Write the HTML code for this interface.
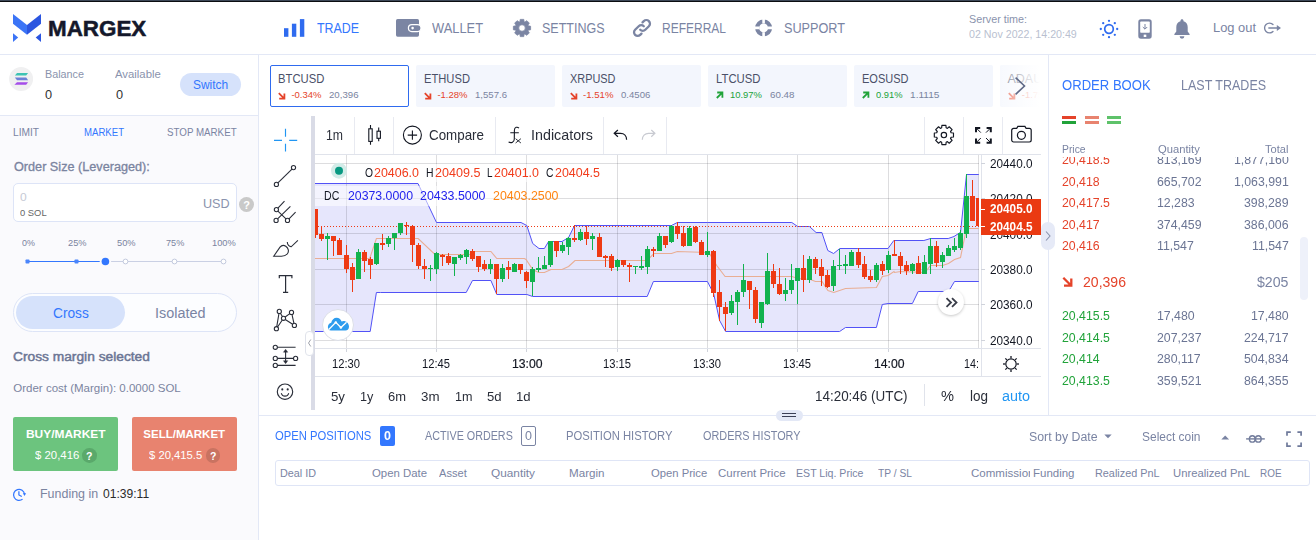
<!DOCTYPE html>
<html><head><meta charset="utf-8"><title>Margex</title>
<style>
html,body{margin:0;padding:0}
body{width:1316px;height:540px;overflow:hidden;background:#fff;position:relative;font-family:"Liberation Sans", sans-serif;}
#app{position:absolute;left:0;top:0;width:1316px;height:540px;overflow:hidden}
.b{position:absolute;display:block}
.t{position:absolute;white-space:pre;transform-origin:0 0;display:block}
</style></head><body><div id="app">
<div class="b" style="left:0px;top:0px;width:1316px;height:1px;background:#3d4858;"></div>
<div class="b" style="left:0px;top:1px;width:1316px;height:1px;background:#0b0d11;"></div>
<div class="b" style="left:0px;top:55px;width:258px;height:60px;background:#fff;"></div>
<div class="b" style="left:0px;top:116px;width:258px;height:424px;background:#fafafd;"></div>
<div class="b" style="left:0px;top:54px;width:1316px;height:1px;background:#e3e8f6;"></div>
<div class="b" style="left:258px;top:55px;width:1px;height:485px;background:#e3e8f6;"></div>
<div class="b" style="left:0px;top:115px;width:258px;height:1px;background:#e3e8f6;"></div>
<div class="b" style="left:259px;top:415px;width:1057px;height:1px;background:#e3e8f6;"></div>
<div class="b" style="left:1048px;top:55px;width:1px;height:360px;background:#e3e8f6;"></div>
<svg class="b" style="left:13px;top:14px;" width="28" height="28" viewBox="0 0 28 28"><polygon points="0,0 14,11 14,20.700 0,9.700" fill="#3b74f6"/><polygon points="28,0 14,11 14,20.700 28,9.700" fill="#2b55e0"/><polygon points="0,19.300 5.200,23.500 0,27.900" fill="#3b74f6"/><polygon points="28,19.300 22.700,23.500 28,27.900" fill="#2b55e0"/></svg>
<span class="t" style="left:47.9px;top:15.9px;font-size:22px;line-height:25px;color:#14182b;font-weight:700;transform:scaleX(1.0180);-webkit-text-stroke:0.500px #14182b;">MARGEX</span>
<svg class="b" style="left:284px;top:19px;" width="21" height="18" viewBox="0 0 21 18"><rect x="0" y="9.2" width="4.4" height="8.6" fill="#2f6bef"/><rect x="7.9" y="4.7" width="4.4" height="13.1" fill="#2f6bef"/><rect x="15.9" y="0.1" width="4.4" height="17.7" fill="#2f6bef"/></svg>
<span class="t" style="left:317px;top:20px;font-size:14px;line-height:16px;color:#3377fe;transform:scaleX(0.8851);">TRADE</span>
<svg class="b" style="left:396px;top:19px;" width="26" height="18" viewBox="0 0 26 18"><rect x="0" y="0" width="23" height="17.7" rx="1.6" fill="#7b85a3"/><rect x="12.4" y="5.6" width="12.6" height="7" rx="3.5" fill="#7b85a3" stroke="#fff" stroke-width="1.2"/><circle cx="16.6" cy="9.1" r="1.3" fill="#fff"/></svg>
<span class="t" style="left:432px;top:20px;font-size:14px;line-height:16px;color:#7a84a3;transform:scaleX(0.9189);">WALLET</span>
<svg class="b" style="left:511px;top:17px;" width="22" height="22" viewBox="0 0 22 22"><path d="M9.25,2.38L12.75,2.38L13.14,4.76L13.90,5.07L15.86,3.67L18.33,6.14L16.93,8.10L17.24,8.86L19.62,9.25L19.62,12.75L17.24,13.14L16.93,13.90L18.33,15.86L15.86,18.33L13.90,16.93L13.14,17.24L12.75,19.62L9.25,19.62L8.86,17.24L8.10,16.93L6.14,18.33L3.67,15.86L5.07,13.90L4.76,13.14L2.38,12.75L2.38,9.25L4.76,8.86L5.07,8.10L3.67,6.14L6.14,3.67L8.10,5.07L8.86,4.76ZM14.3,11A3.3,3.3 0 1,0 7.7,11A3.3,3.3 0 1,0 14.3,11Z" fill="#7b85a3" fill-rule="evenodd" stroke="#7b85a3" stroke-width="0.8" stroke-linejoin="round"/></svg>
<span class="t" style="left:542.2px;top:20px;font-size:14px;line-height:16px;color:#7a84a3;transform:scaleX(0.8927);">SETTINGS</span>
<svg class="b" style="left:632px;top:18px;" width="20" height="20" viewBox="0 0 20 20"><g fill="none" stroke="#7b85a3" stroke-width="2.3" stroke-linecap="round"><path d="M8.2 11.8a3.6 3.6 0 0 0 5.1 0l3.6-3.6a3.6 3.6 0 0 0-5.1-5.1l-1.3 1.3"/><path d="M11.8 8.2a3.6 3.6 0 0 0-5.1 0l-3.6 3.6a3.6 3.6 0 0 0 5.1 5.1l1.3-1.3"/></g></svg>
<span class="t" style="left:662px;top:20px;font-size:14px;line-height:16px;color:#7a84a3;transform:scaleX(0.8569);">REFERRAL</span>
<svg class="b" style="left:754px;top:18px;" width="20" height="20" viewBox="0 0 20 20"><circle cx="9.6" cy="9.9" r="6.5" fill="none" stroke="#7b85a3" stroke-width="4"/><g stroke="#fff" stroke-width="2.6"><path d="M9.6 0.5v5M9.6 14.3v5M0.2 9.9h5M14 9.9h5"/></g></svg>
<span class="t" style="left:784.3px;top:20px;font-size:14px;line-height:16px;color:#7a84a3;transform:scaleX(0.9045);">SUPPORT</span>
<span class="t" style="left:969.1px;top:12.8px;font-size:10.5px;line-height:12px;color:#8a93ad;transform:scaleX(1.0263);">Server time:</span>
<span class="t" style="left:969.1px;top:29.3px;font-size:10px;line-height:11px;color:#b9bfd0;transform:scaleX(1.0652);">02 Nov 2022, 14:20:49</span>
<svg class="b" style="left:1098px;top:18px;" width="22" height="22" viewBox="0 0 22 22"><circle cx="11" cy="11" r="4.300" fill="none" stroke="#2f6bef" stroke-width="1.700"/><circle cx="19.20" cy="11.00" r="1.150" fill="#2f6bef"/><circle cx="16.80" cy="16.80" r="1.150" fill="#2f6bef"/><circle cx="11.00" cy="19.20" r="1.150" fill="#2f6bef"/><circle cx="5.20" cy="16.80" r="1.150" fill="#2f6bef"/><circle cx="2.80" cy="11.00" r="1.150" fill="#2f6bef"/><circle cx="5.20" cy="5.20" r="1.150" fill="#2f6bef"/><circle cx="11.00" cy="2.80" r="1.150" fill="#2f6bef"/><circle cx="16.80" cy="5.20" r="1.150" fill="#2f6bef"/></svg>
<svg class="b" style="left:1138px;top:19px;" width="14" height="20" viewBox="0 0 14 20"><rect x="0.3" y="0.3" width="13.4" height="19.4" rx="2.6" fill="#7b85a3"/><rect x="2.2" y="2.6" width="9.6" height="11.2" rx="0.8" fill="#fff"/><rect x="5.7" y="15.6" width="2.6" height="2.4" fill="#fff"/><path d="M7 5v5M4.8 8l2.2 2.2L9.2 8" fill="none" stroke="#7b85a3" stroke-width="1"/></svg>
<svg class="b" style="left:1173px;top:18px;" width="18" height="22" viewBox="0 0 18 22"><path d="M9 1.2c0.9 0 1.5 0.6 1.5 1.5v0.5c2.6 0.7 4.2 3 4.2 5.8v4.5l1.9 2.6c0.3 0.5 0 1-0.6 1H2c-0.6 0-0.9-0.5-0.6-1l1.9-2.6V9c0-2.8 1.6-5.1 4.2-5.8V2.7C7.5 1.8 8.100 1.2 9 1.2z" fill="#7b85a3"/><path d="M6.6 18.3h4.8a2.4 2.4 0 0 1-4.8 0z" fill="#7b85a3"/></svg>
<span class="t" style="left:1212.9px;top:19.9px;font-size:13px;line-height:15px;color:#7a84a3;transform:scaleX(0.9914);">Log out</span>
<svg class="b" style="left:1262px;top:20px;" width="22" height="16" viewBox="1262 20 22 16"><g fill="none" stroke="#7b85a3" stroke-width="1.350" stroke-linecap="round"><path d="M1272.960 24.540A4.900 4.900 0 1 0 1272.960 31.460"/><path d="M1268.800 28H1277.500"/></g><path d="M1276.800 25.100L1281 28L1276.800 30.900Z" fill="#7b85a3"/></svg>
<svg class="b" style="left:9px;top:67px;" width="24" height="24" viewBox="0 0 24 24"><circle cx="12.100" cy="12" r="12" fill="#f0f0f1"/><polygon points="8,6 19.100,6 17.200,8.600 5.900,8.600" fill="#3dc3b3"/><polygon points="5.900,10.600 17.200,10.600 19.100,13.200 8,13.200" fill="#6c80d6"/><polygon points="8,15.200 19.100,15.200 17.200,17.800 5.400,17.800" fill="#a44de9"/></svg>
<span class="t" style="left:45px;top:67.7px;font-size:10.5px;line-height:12px;color:#8a93ad;transform:scaleX(1.0276);">Balance</span>
<span class="t" style="left:45px;top:86.8px;font-size:13.5px;line-height:15px;color:#333;transform:scaleX(0.9447);">0</span>
<span class="t" style="left:115.2px;top:67.7px;font-size:10.5px;line-height:12px;color:#8a93ad;transform:scaleX(1.0796);">Available</span>
<span class="t" style="left:115.6px;top:86.8px;font-size:13.5px;line-height:15px;color:#333;transform:scaleX(0.9447);">0</span>
<div class="b" style="left:180px;top:73px;width:61px;height:23px;background:#d6e2fb;border-radius:12px;"></div>
<span class="t" style="left:192.8px;top:77.8px;font-size:12px;line-height:14px;color:#3377fe;transform:scaleX(0.9959);">Switch</span>
<span class="t" style="left:13.4px;top:126px;font-size:11px;line-height:12px;color:#7a84a3;transform:scaleX(0.9244);">LIMIT</span>
<span class="t" style="left:83.6px;top:126px;font-size:11px;line-height:12px;color:#3377fe;transform:scaleX(0.8725);">MARKET</span>
<span class="t" style="left:167.2px;top:126px;font-size:11px;line-height:12px;color:#7a84a3;transform:scaleX(0.8872);">STOP MARKET</span>
<span class="t" style="left:13.7px;top:159.8px;font-size:12px;line-height:14px;color:#7a84a0;transform:scaleX(1.0549);-webkit-text-stroke:0.300px #7a84a0;">Order Size (Leveraged):</span>
<div class="b" style="left:13px;top:183px;width:224px;height:39px;background:#fff;border:1px solid #dde4f7;box-sizing:border-box;border-radius:5px;"></div>
<span class="t" style="left:20.3px;top:190.6px;font-size:11px;line-height:12px;color:#c6cad5;transform:scaleX(1.0939);">0</span>
<span class="t" style="left:20.3px;top:206.8px;font-size:9.5px;line-height:11px;color:#666;transform:scaleX(0.9875);">0 SOL</span>
<span class="t" style="left:202.7px;top:195.8px;font-size:13px;line-height:15px;color:#8a93ad;transform:scaleX(0.9689);">USD</span>
<div class="b" style="left:239px;top:197px;width:15px;height:15px;background:#c9c9c9;border-radius:8px;"></div>
<span class="t" style="left:243.133px;top:198.5px;font-size:11px;line-height:12px;color:#fff;font-weight:700;">?</span>
<span class="t" style="left:21.7px;top:237.8px;font-size:9px;line-height:10px;color:#7a84a0;transform:scaleX(0.9911);">0%</span>
<span class="t" style="left:67.8px;top:237.8px;font-size:9px;line-height:10px;color:#7a84a0;transform:scaleX(1.0269);">25%</span>
<span class="t" style="left:116.7px;top:237.8px;font-size:9px;line-height:10px;color:#7a84a0;transform:scaleX(1.0324);">50%</span>
<span class="t" style="left:166px;top:237.8px;font-size:9px;line-height:10px;color:#7a84a0;transform:scaleX(1.0158);">75%</span>
<span class="t" style="left:212.2px;top:237.8px;font-size:9px;line-height:10px;color:#7a84a0;transform:scaleX(1.0334);">100%</span>
<svg class="b" style="left:20px;top:254px;" width="212" height="16" viewBox="20 254 212 16"><path d="M27.500 261.500H223.500" stroke="#cad0e4" stroke-width="1"/><path d="M27.500 261.500H105" stroke="#3377fe" stroke-width="1"/><rect x="25.500" y="259.500" width="4" height="4" rx="0.800" fill="#4a85fb"/><rect x="74.500" y="259.500" width="4" height="4" rx="0.800" fill="#4a85fb"/><circle cx="125.5" cy="261.500" r="2.400" fill="#fff" stroke="#c2c9de" stroke-width="1"/><circle cx="174.5" cy="261.500" r="2.400" fill="#fff" stroke="#c2c9de" stroke-width="1"/><circle cx="223.5" cy="261.500" r="2.400" fill="#fff" stroke="#c2c9de" stroke-width="1"/><circle cx="105.400" cy="261.500" r="5.700" fill="#fafafd"/><circle cx="105.400" cy="261.500" r="3.800" fill="#3377fe"/></svg>
<div class="b" style="left:13px;top:293px;width:224px;height:39px;background:#fcfdff;border:1px solid #dde4f7;box-sizing:border-box;border-radius:20px;"></div>
<div class="b" style="left:16px;top:296px;width:109px;height:33px;background:#d6e2fb;border-radius:17px;"></div>
<span class="t" style="left:52.7px;top:305px;font-size:14px;line-height:16px;color:#3377fe;transform:scaleX(0.9791);">Cross</span>
<span class="t" style="left:154.5px;top:305px;font-size:14px;line-height:16px;color:#7a84a3;transform:scaleX(1.0296);">Isolated</span>
<span class="t" style="left:13.3px;top:350px;font-size:12.5px;line-height:14px;color:#6b7594;transform:scaleX(1.1008);-webkit-text-stroke:0.450px #6b7594;">Cross margin selected</span>
<span class="t" style="left:13.3px;top:382.1px;font-size:11.5px;line-height:12px;color:#7a84a0;">Order cost (Margin): 0.0000 SOL</span>
<div class="b" style="left:13px;top:417px;width:105px;height:54px;background:#6cc47e;border-radius:2px;"></div>
<div class="b" style="left:132px;top:417px;width:105px;height:54px;background:#e8836f;border-radius:2px;"></div>
<span class="t" style="left:25.7px;top:427.7px;font-size:11.5px;line-height:12px;color:#fff;font-weight:700;transform:scaleX(1.0382);">BUY/MARKET</span>
<span class="t" style="left:34.6px;top:449.2px;font-size:11px;line-height:12px;color:#fff;transform:scaleX(1.0344);">$ 20,416</span>
<div class="b" style="left:82px;top:448.4px;width:14.6px;height:14.6px;background:#5aa96b;border-radius:7.3px;"></div>
<span class="t" style="left:86.089px;top:449.6px;font-size:10.5px;line-height:12px;color:#fff;font-weight:700;">?</span>
<span class="t" style="left:143.3px;top:427.7px;font-size:11.5px;line-height:12px;color:#fff;font-weight:700;">SELL/MARKET</span>
<span class="t" style="left:149px;top:449.2px;font-size:11px;line-height:12px;color:#fff;transform:scaleX(1.0231);">$ 20,415.5</span>
<div class="b" style="left:205.9px;top:448.4px;width:14.6px;height:14.6px;background:#c97361;border-radius:7.3px;"></div>
<span class="t" style="left:209.989px;top:449.6px;font-size:10.5px;line-height:12px;color:#fff;font-weight:700;">?</span>
<svg class="b" style="left:11px;top:486px;" width="16" height="18" viewBox="11 486 16 18"><g fill="none" stroke="#3377fe" stroke-width="1.250"><path d="M22.590 499.110A5.500 5.500 0 1 1 24.530 494.300"/><path d="M18.900 491.200V495L21.800 496.500" stroke-linejoin="round"/></g><path d="M22.900 493.200h3.200l-1.600 2.700z" fill="#3377fe"/></svg>
<span class="t" style="left:40px;top:486.9px;font-size:12px;line-height:14px;color:#7a84a0;transform:scaleX(1.0384);">Funding in</span>
<span class="t" style="left:103.4px;top:486.9px;font-size:12px;line-height:14px;color:#2a2a2a;transform:scaleX(1.0059);">01:39:11</span>
<div class="b" style="left:270px;top:65px;width:139px;height:42px;background:#fff;border:1px solid #2f6bef;box-sizing:border-box;border-radius:2px;"></div>
<span class="t" style="left:278px;top:72px;font-size:12.5px;line-height:14px;color:#4a5068;transform:scaleX(0.9026);">BTCUSD</span>
<svg class="b" style="left:278px;top:91.5px;" width="8" height="8" viewBox="0 0 8 8"><path d="M0.800 1.200L6 6.400M1.200 6.600H6.400V1.400" fill="none" stroke="#e5432a" stroke-width="1.800"/></svg>
<span class="t" style="left:291.4px;top:89.1px;font-size:9.5px;line-height:11px;color:#e5432a;">-0.34%</span>
<span class="t" style="left:328.9px;top:89.1px;font-size:9.5px;line-height:11px;color:#7a84a0;transform:scaleX(1.0151);">20,396</span>
<div class="b" style="left:416px;top:65px;width:139px;height:42px;background:#f3f6fd;border-radius:2px;"></div>
<span class="t" style="left:424px;top:72px;font-size:12.5px;line-height:14px;color:#4a5068;transform:scaleX(0.8948);">ETHUSD</span>
<svg class="b" style="left:424px;top:91.5px;" width="8" height="8" viewBox="0 0 8 8"><path d="M0.800 1.200L6 6.400M1.200 6.600H6.400V1.400" fill="none" stroke="#e5432a" stroke-width="1.800"/></svg>
<span class="t" style="left:437.4px;top:89.1px;font-size:9.5px;line-height:11px;color:#e5432a;">-1.28%</span>
<span class="t" style="left:474.9px;top:89.1px;font-size:9.5px;line-height:11px;color:#7a84a0;transform:scaleX(1.0094);">1,557.6</span>
<div class="b" style="left:562px;top:65px;width:139px;height:42px;background:#f3f6fd;border-radius:2px;"></div>
<span class="t" style="left:570px;top:72px;font-size:12.5px;line-height:14px;color:#4a5068;transform:scaleX(0.8734);">XRPUSD</span>
<svg class="b" style="left:570px;top:91.5px;" width="8" height="8" viewBox="0 0 8 8"><path d="M0.800 1.200L6 6.400M1.200 6.600H6.400V1.400" fill="none" stroke="#e5432a" stroke-width="1.800"/></svg>
<span class="t" style="left:583.4px;top:89.1px;font-size:9.5px;line-height:11px;color:#e5432a;transform:scaleX(1.0130);">-1.51%</span>
<span class="t" style="left:621.4px;top:89.1px;font-size:9.5px;line-height:11px;color:#7a84a0;transform:scaleX(1.0082);">0.4506</span>
<div class="b" style="left:708px;top:65px;width:139px;height:42px;background:#f3f6fd;border-radius:2px;"></div>
<span class="t" style="left:716px;top:72px;font-size:12.5px;line-height:14px;color:#4a5068;transform:scaleX(0.9064);">LTCUSD</span>
<svg class="b" style="left:715.8px;top:91.4px;" width="8" height="8" viewBox="0 0 8 8"><path d="M0.800 7L6 1.800M1.200 1.500H6.400V6.700" fill="none" stroke="#21a33a" stroke-width="1.800"/></svg>
<span class="t" style="left:730px;top:89.1px;font-size:9.5px;line-height:11px;color:#21a33a;transform:scaleX(0.9927);">10.97%</span>
<span class="t" style="left:769.5px;top:89.1px;font-size:9.5px;line-height:11px;color:#7a84a0;transform:scaleX(1.0302);">60.48</span>
<div class="b" style="left:854px;top:65px;width:139px;height:42px;background:#f3f6fd;border-radius:2px;"></div>
<span class="t" style="left:862px;top:72px;font-size:12.5px;line-height:14px;color:#4a5068;transform:scaleX(0.8807);">EOSUSD</span>
<svg class="b" style="left:861.8px;top:91.4px;" width="8" height="8" viewBox="0 0 8 8"><path d="M0.800 7L6 1.800M1.200 1.500H6.400V6.700" fill="none" stroke="#21a33a" stroke-width="1.800"/></svg>
<span class="t" style="left:876px;top:89.1px;font-size:9.5px;line-height:11px;color:#21a33a;transform:scaleX(0.9838);">0.91%</span>
<span class="t" style="left:910px;top:89.1px;font-size:9.5px;line-height:11px;color:#7a84a0;transform:scaleX(1.0667);">1.1115</span>
<div class="b" style="left:1000px;top:65px;width:42px;height:42px;overflow:hidden;background:#f3f6fd;border-radius:2px 0 0 2px">
<span style="position:absolute;left:7.500px;top:7px;font-size:12.500px;line-height:14px;color:#4a5068;white-space:pre">ADAUSD</span>
<svg style="position:absolute;left:8px;top:26.500px" width="8" height="8"><path d="M0.800 1.200L6 6.400M1.200 6.600H6.400V1.400" fill="none" stroke="#e5432a" stroke-width="1.800"/></svg>
<span style="position:absolute;left:21.800px;top:24.100px;font-size:9.500px;line-height:11px;color:#e5432a;white-space:pre">-1.75%</span>
<div style="position:absolute;left:0;top:0;width:42px;height:42px;background:linear-gradient(90deg,rgba(255,255,255,0.35) 0%,rgba(255,255,255,1) 95%)"></div></div>
<svg class="b" style="left:1013px;top:76px;" width="14" height="20" viewBox="0 0 14 20"><path d="M2.600 1.600L11.500 10L2.600 18.300" fill="none" stroke="#5f6987" stroke-width="1.600"/></svg>
<div class="b" style="left:259px;top:116px;width:789px;height:296px;will-change:transform"><div class="b" style="left:-259px;top:-116px;width:1316px;height:540px">
<svg class="b" style="left:262px;top:120px;" width="50" height="295" viewBox="262 120 50 295"><g stroke="#2196f3" stroke-width="1.150" fill="none"><path d="M285.500 128.700v8M285.500 143.700v7.800M274 140.300h8M289.200 140.300h8"/></g><g fill="none" stroke="#2a2e39" stroke-width="1.100"><path d="M277.900 182.900L292 169.100"/><circle cx="276.4" cy="184.4" r="2.1"/><circle cx="293.5" cy="167.6" r="2.1"/><path d="M277.900 208.100L284.500 201.100M277.600 218.900L290.400 206.300M289 218.900L295.600 212.200M277.900 211.100L286 218.900"/><circle cx="276.4" cy="209.6" r="2.1"/><circle cx="276.1" cy="220.4" r="2.1"/><circle cx="287.5" cy="220.4" r="2.1"/><path d="M273.700 256.200L280 247.200C281.500 245.300 284 245 285.800 246.300C288.500 248.300 289.300 251.500 287.200 254C285.800 255.600 284 256.200 281.500 256.200Z"/><path d="M287.300 241.900C287.300 244.800 289.300 246.900 291.400 246.600L297.900 240.400"/><path d="M279.300 278.300v-2.600h12.600v2.600M285.600 275.700v16.700M283 292.400h5.200" stroke-width="1.200"/><path d="M276.75 326.63L278.95 313.47M280.39 313.19L282.41 316.51M282.32 320.03L277.58 326.97M285.19 317.05L289.81 313.65M291.96 314.45L293.94 323.35M292.64 324.25L285.26 319.45"/><circle cx="279.3" cy="311.4" r="2.1"/><circle cx="283.5" cy="318.3" r="2.1"/><circle cx="291.5" cy="312.4" r="2.1"/><circle cx="294.4" cy="325.4" r="2.1"/><circle cx="276.4" cy="328.7" r="2.1"/><path d="M277.400 347.300H295.600M277.400 358.400H293.500M277.400 365.400H295.600M285.600 350.500V362.500"/><circle cx="275.3" cy="347.3" r="2.1"/><circle cx="275.3" cy="358.4" r="2.1"/><circle cx="295.6" cy="358.4" r="2.1"/><circle cx="275.3" cy="365.4" r="2.1"/><path d="M285.600 349.200l-2.200 3h4.400zM285.600 363.700l-2.200-3h4.400z" fill="#2a2e39" stroke-width="0.400"/><circle cx="285" cy="391.700" r="7.700" stroke-width="1.150"/><path d="M281.400 393.600c1.200 3.400 6 3.400 7.200 0" stroke-linecap="round"/></g><circle cx="282.300" cy="389.400" r="1.050" fill="#2a2e39"/><circle cx="287.700" cy="389.400" r="1.050" fill="#2a2e39"/></svg>
<div class="b" style="left:311px;top:116px;width:4px;height:294px;background:#d9dbe6;"></div>
<div class="b" style="left:305px;top:330.5px;width:9px;height:25px;background:#fff;border:1px solid #e0e3eb;box-sizing:border-box;border-radius:4px;"></div>
<svg class="b" style="left:307px;top:338.1px;" width="5" height="10" viewBox="0 0 5 10"><path d="M3.800 1.500L1.500 5l2.300 3.500" fill="none" stroke="#9598a1" stroke-width="0.900"/></svg>
<div class="b" style="left:315px;top:154px;width:726px;height:1px;background:#e0e3eb;"></div>
<div class="b" style="left:354px;top:117px;width:1px;height:37px;background:#e8eaf1;"></div>
<div class="b" style="left:393px;top:117px;width:1px;height:37px;background:#e8eaf1;"></div>
<div class="b" style="left:495px;top:117px;width:1px;height:37px;background:#e8eaf1;"></div>
<div class="b" style="left:603px;top:117px;width:1px;height:37px;background:#e8eaf1;"></div>
<div class="b" style="left:666px;top:117px;width:1px;height:37px;background:#e8eaf1;"></div>
<div class="b" style="left:924px;top:117px;width:1px;height:37px;background:#e8eaf1;"></div>
<div class="b" style="left:963px;top:117px;width:1px;height:37px;background:#e8eaf1;"></div>
<div class="b" style="left:1002px;top:117px;width:1px;height:37px;background:#e8eaf1;"></div>
<span class="t" style="left:326px;top:127px;font-size:14px;line-height:16px;color:#2a2e39;transform:scaleX(0.8739);">1m</span>
<svg class="b" style="left:356px;top:118px;" width="690" height="34" viewBox="356 118 690 34"><g fill="none" stroke="#131722" stroke-width="1.100"><rect x="368.800" y="128.800" width="3.400" height="12.600"/><path d="M370.500 125.100V128.800M370.500 141.400V144.700"/><rect x="377" y="131.200" width="3.400" height="7.100"/><path d="M378.700 127.600V131.200M378.700 138.300V141.300"/><circle cx="412.400" cy="135.100" r="9"/><path d="M412.400 130.400v9.400M407.700 135.100h9.400"/><path d="M519 128.100C517.400 126.600 514.500 126.900 514.400 130.200L514.300 139C514.200 142 511.500 143.400 508.600 142.100M510.300 132.800H518.800"/><path d="M515.600 138.700L520.900 143M520.900 138.700L515.600 143" stroke-width="0.900"/><path d="M614.200 133.300H620.600C624.200 133.300 626.600 136 626.600 139.700M617.900 130L614.200 133.300L617.900 136.700" stroke-width="1.200"/><path d="M654.900 133.300H648.500C644.900 133.300 642.300 136 642.300 139.700M651.300 130L654.900 133.300L651.300 136.700" stroke="#c8cad1" stroke-width="1.200"/><path d="M1011.700 130.300a1.900 1.900 0 0 1 1.900-1.900h3.100l1.200-2h7l1.200 2h3.200a1.900 1.900 0 0 1 1.900 1.900v9.800a1.900 1.900 0 0 1-1.900 1.900h-15.700a1.900 1.900 0 0 1-1.900-1.900z" stroke-width="1.200"/><circle cx="1021.400" cy="135.300" r="4" stroke-width="1.200"/><path d="M976.500 128.300L980.800 132.600M990.300 128.300L986 132.600M976.500 142.300L980.800 138M990.300 142.300L986 138" stroke-width="1"/></g><g fill="#131722"><path d="M975 127h5.200v2h-3.200v3.200h-2zM991.800 127v5.200h-2v-3.200h-3.200v-2zM975 143.700v-5.200h2v3.200h3.200v2zM991.800 143.700h-5.200v-2h3.200v-3.200h2z"/></g><path d="M941.86 125.42L945.94 125.42L946.12 127.83L947.40 128.37L949.23 126.78L952.12 129.67L950.53 131.50L951.07 132.78L953.48 132.96L953.48 137.04L951.07 137.22L950.53 138.50L952.12 140.33L949.23 143.22L947.40 141.63L946.12 142.17L945.94 144.58L941.86 144.58L941.68 142.17L940.40 141.63L938.57 143.22L935.68 140.33L937.27 138.50L936.73 137.22L934.32 137.04L934.32 132.96L936.73 132.78L937.27 131.50L935.68 129.67L938.57 126.78L940.40 128.37L941.68 127.83Z" fill="none" stroke="#131722" stroke-width="1.150" stroke-linejoin="round"/><circle cx="943.900" cy="135" r="2.700" fill="none" stroke="#131722" stroke-width="1.150"/></svg>
<span class="t" style="left:429px;top:127px;font-size:14.5px;line-height:16px;color:#2a2e39;transform:scaleX(0.9222);">Compare</span>
<span class="t" style="left:531px;top:127px;font-size:14.5px;line-height:16px;color:#2a2e39;transform:scaleX(0.9861);">Indicators</span>
<svg class="b" style="left:315px;top:155px" width="664" height="193" viewBox="0 0 664 193"><polygon points="0.0,28.5 0.0,28.5 103.0,28.5 121.5,67.5 206.0,67.5 211.8,70.5 217.7,88.5 224.0,93.5 229.4,93.5 233.6,86.5 247.0,86.5 253.6,82.5 259.5,70.5 356.5,70.5 362.3,67.5 392.8,67.5 476.8,67.5 482.7,71.5 494.4,71.5 501.1,77.5 506.9,77.5 512.8,95.5 518.6,98.5 524.8,93.5 542.9,93.5 573.0,93.5 578.8,85.5 608.9,85.5 615.6,83.5 633.2,83.5 639.0,81.5 645.1,77.5 645.5,77.5 651.5,19.5 663.8,19.5 663.7,19.5 663.7,126.5 663.8,126.5 639.5,126.5 633.5,136.5 603.5,136.5 603.2,136.5 597.4,148.5 573.1,148.5 567.3,149.5 561.4,172.5 530.5,172.5 524.6,176.5 410.8,176.5 410.6,176.5 404.6,165.5 398.6,138.5 392.4,126.5 338.4,126.5 332.2,141.5 217.7,141.5 211.9,139.5 181.8,139.5 175.9,125.5 157.5,125.5 151.2,137.5 65.6,137.5 61.4,137.5 55.2,176.5 0.0,176.5 0.0,176.5" fill="#e6e6fc"/><rect x="31.0" y="0" width="1" height="193" fill="rgba(42,46,57,0.16)"/><rect x="121.0" y="0" width="1" height="193" fill="rgba(42,46,57,0.16)"/><rect x="211.0" y="0" width="1" height="193" fill="rgba(42,46,57,0.16)"/><rect x="302.0" y="0" width="1" height="193" fill="rgba(42,46,57,0.16)"/><rect x="392.0" y="0" width="1" height="193" fill="rgba(42,46,57,0.16)"/><rect x="482.0" y="0" width="1" height="193" fill="rgba(42,46,57,0.16)"/><rect x="573.0" y="0" width="1" height="193" fill="rgba(42,46,57,0.16)"/><rect x="663.0" y="0" width="1" height="193" fill="rgba(42,46,57,0.16)"/><rect x="0" y="8" width="666" height="1" fill="rgba(42,46,57,0.16)"/><rect x="0" y="43" width="666" height="1" fill="rgba(42,46,57,0.16)"/><rect x="0" y="78" width="666" height="1" fill="rgba(42,46,57,0.16)"/><rect x="0" y="114" width="666" height="1" fill="rgba(42,46,57,0.16)"/><rect x="0" y="149" width="666" height="1" fill="rgba(42,46,57,0.16)"/><rect x="0" y="185" width="666" height="1" fill="rgba(42,46,57,0.16)"/><polyline points="0.0,103.5 0.0,103.5 54.7,103.5 61.4,83.5 103.2,83.5 119.9,99.5 157.5,99.5 160.0,96.5 175.9,96.5 181.8,103.5 209.4,103.5 211.0,104.5 217.7,114.5 223.5,117.5 229.4,117.5 236.1,114.5 247.0,114.5 253.6,111.5 260.0,105.5 332.2,105.5 338.9,98.5 356.5,98.5 362.3,96.5 392.5,97.5 393.3,96.5 401.7,110.5 410.1,121.5 477.0,121.5 482.8,123.5 495.4,124.5 500.4,126.5 507.1,126.5 512.9,135.5 518.8,137.5 530.5,133.5 561.4,132.5 567.3,121.5 573.1,120.5 579.0,116.5 579.5,117.5 585.7,116.5 610.0,117.5 615.5,110.5 627.5,110.5 633.5,108.5 639.5,104.5 645.5,102.5 651.5,73.5 663.8,73.5 663.7,73.5" fill="none" stroke="#e9ae94" stroke-width="1.100"/><polyline points="0.0,28.5 0.0,28.5 103.0,28.5 121.5,67.5 206.0,67.5 211.8,70.5 217.7,88.5 224.0,93.5 229.4,93.5 233.6,86.5 247.0,86.5 253.6,82.5 259.5,70.5 356.5,70.5 362.3,67.5 392.8,67.5 476.8,67.5 482.7,71.5 494.4,71.5 501.1,77.5 506.9,77.5 512.8,95.5 518.6,98.5 524.8,93.5 542.9,93.5 573.0,93.5 578.8,85.5 608.9,85.5 615.6,83.5 633.2,83.5 639.0,81.5 645.1,77.5 645.5,77.5 651.5,19.5 663.8,19.5 663.7,19.5" fill="none" stroke="#5252f6" stroke-width="1"/><polyline points="0.0,176.5 0.0,176.5 55.2,176.5 61.4,137.5 65.6,137.5 151.2,137.5 157.5,125.5 175.9,125.5 181.8,139.5 211.9,139.5 217.7,141.5 332.2,141.5 338.4,126.5 392.4,126.5 398.6,138.5 404.6,165.5 410.6,176.5 410.8,176.5 524.6,176.5 530.5,172.5 561.4,172.5 567.3,149.5 573.1,148.5 597.4,148.5 603.2,136.5 603.5,136.5 633.5,136.5 639.5,126.5 663.8,126.5 663.7,126.5" fill="none" stroke="#5252f6" stroke-width="1"/><path d="M0 71.5H666" stroke="#ee3a14" stroke-width="1" stroke-dasharray="1 2"/><rect x="0" y="54" width="1" height="29" fill="#ee3a14"/><rect x="-2" y="54" width="5" height="26" fill="#ee3a14"/><rect x="6" y="72" width="1" height="14" fill="#ee3a14"/><rect x="4" y="79" width="5" height="5" fill="#ee3a14"/><rect x="12" y="78" width="1" height="27" fill="#12b24e"/><rect x="10" y="81" width="5" height="3" fill="#12b24e"/><rect x="18" y="81" width="1" height="20" fill="#ee3a14"/><rect x="16" y="81" width="5" height="5" fill="#ee3a14"/><rect x="24" y="83" width="1" height="17" fill="#ee3a14"/><rect x="22" y="85" width="5" height="15" fill="#ee3a14"/><rect x="31" y="90" width="1" height="28" fill="#ee3a14"/><rect x="29" y="100" width="5" height="14" fill="#ee3a14"/><rect x="37" y="108" width="1" height="29" fill="#ee3a14"/><rect x="35" y="112" width="5" height="13" fill="#ee3a14"/><rect x="43" y="94" width="1" height="30" fill="#12b24e"/><rect x="41" y="97" width="5" height="27" fill="#12b24e"/><rect x="49" y="95" width="1" height="22" fill="#ee3a14"/><rect x="47" y="97" width="5" height="9" fill="#ee3a14"/><rect x="55" y="102" width="1" height="22" fill="#ee3a14"/><rect x="53" y="104" width="5" height="6" fill="#ee3a14"/><rect x="61" y="88" width="1" height="22" fill="#12b24e"/><rect x="59" y="88" width="5" height="21" fill="#12b24e"/><rect x="67" y="79" width="1" height="16" fill="#ee3a14"/><rect x="65" y="88" width="5" height="2" fill="#ee3a14"/><rect x="73" y="81" width="1" height="11" fill="#12b24e"/><rect x="71" y="83" width="5" height="6" fill="#12b24e"/><rect x="79" y="78" width="1" height="17" fill="#12b24e"/><rect x="77" y="78" width="5" height="5" fill="#12b24e"/><rect x="85" y="68" width="1" height="12" fill="#12b24e"/><rect x="83" y="68" width="5" height="10" fill="#12b24e"/><rect x="91" y="67" width="1" height="13" fill="#ee3a14"/><rect x="89" y="70" width="5" height="1" fill="#ee3a14"/><rect x="97" y="70" width="1" height="37" fill="#ee3a14"/><rect x="95" y="71" width="5" height="19" fill="#ee3a14"/><rect x="103" y="88" width="1" height="26" fill="#ee3a14"/><rect x="101" y="90" width="5" height="21" fill="#ee3a14"/><rect x="109" y="104" width="1" height="20" fill="#ee3a14"/><rect x="107" y="111" width="5" height="3" fill="#ee3a14"/><rect x="115" y="110" width="1" height="16" fill="#12b24e"/><rect x="113" y="113" width="5" height="1" fill="#12b24e"/><rect x="121" y="97" width="1" height="22" fill="#12b24e"/><rect x="119" y="98" width="5" height="16" fill="#12b24e"/><rect x="127" y="99" width="1" height="12" fill="#ee3a14"/><rect x="125" y="100" width="5" height="2" fill="#ee3a14"/><rect x="133" y="98" width="1" height="12" fill="#ee3a14"/><rect x="131" y="101" width="5" height="7" fill="#ee3a14"/><rect x="139" y="102" width="1" height="19" fill="#12b24e"/><rect x="137" y="102" width="5" height="7" fill="#12b24e"/><rect x="145" y="99" width="1" height="6" fill="#12b24e"/><rect x="143" y="100" width="5" height="3" fill="#12b24e"/><rect x="151" y="94" width="1" height="15" fill="#12b24e"/><rect x="149" y="95" width="5" height="7" fill="#12b24e"/><rect x="157" y="94" width="1" height="12" fill="#ee3a14"/><rect x="155" y="96" width="5" height="8" fill="#ee3a14"/><rect x="163" y="101" width="1" height="16" fill="#ee3a14"/><rect x="161" y="101" width="5" height="11" fill="#ee3a14"/><rect x="169" y="105" width="1" height="11" fill="#ee3a14"/><rect x="167" y="109" width="5" height="5" fill="#ee3a14"/><rect x="175" y="104" width="1" height="15" fill="#12b24e"/><rect x="173" y="109" width="5" height="5" fill="#12b24e"/><rect x="181" y="109" width="1" height="30" fill="#ee3a14"/><rect x="179" y="109" width="5" height="15" fill="#ee3a14"/><rect x="187" y="109" width="1" height="18" fill="#12b24e"/><rect x="185" y="113" width="5" height="11" fill="#12b24e"/><rect x="193" y="106" width="1" height="18" fill="#ee3a14"/><rect x="191" y="112" width="5" height="3" fill="#ee3a14"/><rect x="199" y="108" width="1" height="9" fill="#12b24e"/><rect x="197" y="109" width="5" height="8" fill="#12b24e"/><rect x="205" y="109" width="1" height="10" fill="#ee3a14"/><rect x="203" y="109" width="5" height="6" fill="#ee3a14"/><rect x="211" y="116" width="1" height="17" fill="#ee3a14"/><rect x="209" y="117" width="5" height="9" fill="#ee3a14"/><rect x="217" y="112" width="1" height="29" fill="#12b24e"/><rect x="215" y="114" width="5" height="13" fill="#12b24e"/><rect x="223" y="102" width="1" height="15" fill="#12b24e"/><rect x="221" y="113" width="5" height="2" fill="#12b24e"/><rect x="229" y="101" width="1" height="13" fill="#12b24e"/><rect x="227" y="110" width="5" height="4" fill="#12b24e"/><rect x="235" y="86" width="1" height="26" fill="#12b24e"/><rect x="233" y="86" width="5" height="24" fill="#12b24e"/><rect x="241" y="86" width="1" height="16" fill="#ee3a14"/><rect x="239" y="86" width="5" height="10" fill="#ee3a14"/><rect x="247" y="87" width="1" height="11" fill="#12b24e"/><rect x="245" y="90" width="5" height="6" fill="#12b24e"/><rect x="253" y="82" width="1" height="18" fill="#12b24e"/><rect x="251" y="83" width="5" height="9" fill="#12b24e"/><rect x="259" y="70" width="1" height="17" fill="#ee3a14"/><rect x="257" y="83" width="5" height="2" fill="#ee3a14"/><rect x="265" y="74" width="1" height="12" fill="#12b24e"/><rect x="263" y="77" width="5" height="8" fill="#12b24e"/><rect x="271" y="71" width="1" height="19" fill="#ee3a14"/><rect x="269" y="77" width="5" height="7" fill="#ee3a14"/><rect x="277" y="78" width="1" height="17" fill="#12b24e"/><rect x="275" y="81" width="5" height="3" fill="#12b24e"/><rect x="284" y="78" width="1" height="24" fill="#ee3a14"/><rect x="282" y="82" width="5" height="20" fill="#ee3a14"/><rect x="290" y="100" width="1" height="12" fill="#ee3a14"/><rect x="288" y="101" width="5" height="2" fill="#ee3a14"/><rect x="296" y="99" width="1" height="17" fill="#ee3a14"/><rect x="294" y="101" width="5" height="12" fill="#ee3a14"/><rect x="302" y="104" width="1" height="12" fill="#12b24e"/><rect x="300" y="105" width="5" height="7" fill="#12b24e"/><rect x="308" y="105" width="1" height="7" fill="#ee3a14"/><rect x="306" y="105" width="5" height="5" fill="#ee3a14"/><rect x="314" y="108" width="1" height="19" fill="#ee3a14"/><rect x="312" y="110" width="5" height="2" fill="#ee3a14"/><rect x="320" y="111" width="1" height="8" fill="#12b24e"/><rect x="318" y="111" width="5" height="1" fill="#12b24e"/><rect x="326" y="101" width="1" height="14" fill="#12b24e"/><rect x="324" y="111" width="5" height="2" fill="#12b24e"/><rect x="332" y="91" width="1" height="28" fill="#12b24e"/><rect x="330" y="94" width="5" height="18" fill="#12b24e"/><rect x="338" y="92" width="1" height="10" fill="#ee3a14"/><rect x="336" y="94" width="5" height="2" fill="#ee3a14"/><rect x="344" y="78" width="1" height="18" fill="#12b24e"/><rect x="342" y="81" width="5" height="15" fill="#12b24e"/><rect x="350" y="81" width="1" height="12" fill="#ee3a14"/><rect x="348" y="81" width="5" height="9" fill="#ee3a14"/><rect x="356" y="70" width="1" height="18" fill="#12b24e"/><rect x="354" y="71" width="5" height="16" fill="#12b24e"/><rect x="362" y="67" width="1" height="17" fill="#ee3a14"/><rect x="360" y="71" width="5" height="8" fill="#ee3a14"/><rect x="368" y="71" width="1" height="21" fill="#ee3a14"/><rect x="366" y="78" width="5" height="13" fill="#ee3a14"/><rect x="374" y="71" width="1" height="20" fill="#12b24e"/><rect x="372" y="73" width="5" height="18" fill="#12b24e"/><rect x="380" y="71" width="1" height="17" fill="#ee3a14"/><rect x="378" y="72" width="5" height="15" fill="#ee3a14"/><rect x="386" y="85" width="1" height="15" fill="#ee3a14"/><rect x="384" y="87" width="5" height="13" fill="#ee3a14"/><rect x="392" y="77" width="1" height="25" fill="#12b24e"/><rect x="390" y="96" width="5" height="4" fill="#12b24e"/><rect x="398" y="95" width="1" height="47" fill="#ee3a14"/><rect x="396" y="96" width="5" height="42" fill="#ee3a14"/><rect x="404" y="125" width="1" height="41" fill="#ee3a14"/><rect x="402" y="137" width="5" height="15" fill="#ee3a14"/><rect x="410" y="147" width="1" height="29" fill="#ee3a14"/><rect x="408" y="152" width="5" height="7" fill="#ee3a14"/><rect x="416" y="140" width="1" height="20" fill="#12b24e"/><rect x="414" y="146" width="5" height="12" fill="#12b24e"/><rect x="422" y="135" width="1" height="35" fill="#12b24e"/><rect x="420" y="137" width="5" height="10" fill="#12b24e"/><rect x="428" y="109" width="1" height="33" fill="#12b24e"/><rect x="426" y="125" width="5" height="12" fill="#12b24e"/><rect x="434" y="126" width="1" height="28" fill="#ee3a14"/><rect x="432" y="126" width="5" height="9" fill="#ee3a14"/><rect x="440" y="132" width="1" height="36" fill="#ee3a14"/><rect x="438" y="135" width="5" height="29" fill="#ee3a14"/><rect x="446" y="147" width="1" height="26" fill="#12b24e"/><rect x="444" y="147" width="5" height="21" fill="#12b24e"/><rect x="452" y="98" width="1" height="52" fill="#12b24e"/><rect x="450" y="116" width="5" height="33" fill="#12b24e"/><rect x="458" y="109" width="1" height="24" fill="#ee3a14"/><rect x="456" y="116" width="5" height="13" fill="#ee3a14"/><rect x="464" y="113" width="1" height="27" fill="#ee3a14"/><rect x="462" y="129" width="5" height="10" fill="#ee3a14"/><rect x="470" y="123" width="1" height="23" fill="#12b24e"/><rect x="468" y="135" width="5" height="4" fill="#12b24e"/><rect x="476" y="109" width="1" height="30" fill="#12b24e"/><rect x="474" y="125" width="5" height="10" fill="#12b24e"/><rect x="482" y="113" width="1" height="36" fill="#12b24e"/><rect x="480" y="113" width="5" height="13" fill="#12b24e"/><rect x="488" y="100" width="1" height="37" fill="#ee3a14"/><rect x="486" y="113" width="5" height="12" fill="#ee3a14"/><rect x="494" y="101" width="1" height="27" fill="#12b24e"/><rect x="492" y="104" width="5" height="21" fill="#12b24e"/><rect x="500" y="102" width="1" height="17" fill="#ee3a14"/><rect x="498" y="104" width="5" height="9" fill="#ee3a14"/><rect x="506" y="104" width="1" height="27" fill="#ee3a14"/><rect x="504" y="112" width="5" height="9" fill="#ee3a14"/><rect x="512" y="115" width="1" height="18" fill="#ee3a14"/><rect x="510" y="120" width="5" height="12" fill="#ee3a14"/><rect x="518" y="105" width="1" height="31" fill="#12b24e"/><rect x="516" y="111" width="5" height="20" fill="#12b24e"/><rect x="524" y="94" width="1" height="21" fill="#12b24e"/><rect x="522" y="110" width="5" height="1" fill="#12b24e"/><rect x="530" y="100" width="1" height="19" fill="#12b24e"/><rect x="528" y="109" width="5" height="2" fill="#12b24e"/><rect x="536" y="95" width="1" height="16" fill="#12b24e"/><rect x="534" y="97" width="5" height="14" fill="#12b24e"/><rect x="543" y="93" width="1" height="20" fill="#ee3a14"/><rect x="541" y="97" width="5" height="13" fill="#ee3a14"/><rect x="549" y="101" width="1" height="23" fill="#ee3a14"/><rect x="547" y="109" width="5" height="13" fill="#ee3a14"/><rect x="555" y="115" width="1" height="12" fill="#ee3a14"/><rect x="553" y="121" width="5" height="4" fill="#ee3a14"/><rect x="561" y="108" width="1" height="19" fill="#12b24e"/><rect x="559" y="110" width="5" height="15" fill="#12b24e"/><rect x="567" y="106" width="1" height="14" fill="#ee3a14"/><rect x="565" y="109" width="5" height="7" fill="#ee3a14"/><rect x="573" y="96" width="1" height="22" fill="#12b24e"/><rect x="571" y="100" width="5" height="15" fill="#12b24e"/><rect x="579" y="85" width="1" height="16" fill="#ee3a14"/><rect x="577" y="99" width="5" height="2" fill="#ee3a14"/><rect x="585" y="97" width="1" height="22" fill="#ee3a14"/><rect x="583" y="101" width="5" height="10" fill="#ee3a14"/><rect x="591" y="106" width="1" height="14" fill="#ee3a14"/><rect x="589" y="110" width="5" height="6" fill="#ee3a14"/><rect x="597" y="108" width="1" height="11" fill="#12b24e"/><rect x="595" y="109" width="5" height="7" fill="#12b24e"/><rect x="603" y="101" width="1" height="18" fill="#ee3a14"/><rect x="601" y="108" width="5" height="11" fill="#ee3a14"/><rect x="609" y="100" width="1" height="19" fill="#12b24e"/><rect x="607" y="107" width="5" height="12" fill="#12b24e"/><rect x="615" y="83" width="1" height="36" fill="#12b24e"/><rect x="613" y="91" width="5" height="18" fill="#12b24e"/><rect x="621" y="86" width="1" height="26" fill="#ee3a14"/><rect x="619" y="91" width="5" height="17" fill="#ee3a14"/><rect x="627" y="97" width="1" height="16" fill="#12b24e"/><rect x="625" y="100" width="5" height="7" fill="#12b24e"/><rect x="633" y="90" width="1" height="11" fill="#12b24e"/><rect x="631" y="93" width="5" height="8" fill="#12b24e"/><rect x="639" y="83" width="1" height="14" fill="#12b24e"/><rect x="637" y="91" width="5" height="4" fill="#12b24e"/><rect x="645" y="75" width="1" height="20" fill="#12b24e"/><rect x="643" y="78" width="5" height="15" fill="#12b24e"/><rect x="651" y="19" width="1" height="64" fill="#12b24e"/><rect x="649" y="41" width="5" height="38" fill="#12b24e"/><rect x="657" y="25" width="1" height="41" fill="#ee3a14"/><rect x="655" y="41" width="5" height="25" fill="#ee3a14"/><rect x="661" y="43" width="3" height="28" fill="#ee3a14"/><rect x="0" y="31" width="190" height="20" fill="rgba(255,255,255,0.550)"/><rect x="44" y="9" width="244" height="18" fill="rgba(255,255,255,0.550)"/><circle cx="24" cy="15.699999999999989" r="8" fill="#d3ece8"/><circle cx="24" cy="15.699999999999989" r="4" fill="#089981"/></svg>
<span class="t" style="left:364.5px;top:166px;font-size:12.5px;line-height:14px;color:#131722;transform:scaleX(0.8218);">O</span>
<span class="t" style="left:374px;top:166px;font-size:12.5px;line-height:14px;color:#f23c1b;transform:scaleX(0.9959);">20406.0</span>
<span class="t" style="left:426px;top:166px;font-size:12.5px;line-height:14px;color:#131722;transform:scaleX(0.8304);">H</span>
<span class="t" style="left:435px;top:166px;font-size:12.5px;line-height:14px;color:#f23c1b;transform:scaleX(1.0069);">20409.5</span>
<span class="t" style="left:487px;top:166px;font-size:12.5px;line-height:14px;color:#131722;transform:scaleX(0.7910);">L</span>
<span class="t" style="left:494px;top:166px;font-size:12.5px;line-height:14px;color:#f23c1b;transform:scaleX(0.9959);">20401.0</span>
<span class="t" style="left:546px;top:166px;font-size:12.5px;line-height:14px;color:#131722;transform:scaleX(0.8304);">C</span>
<span class="t" style="left:555px;top:166px;font-size:12.5px;line-height:14px;color:#f23c1b;transform:scaleX(0.9959);">20404.5</span>
<span class="t" style="left:323.9px;top:189px;font-size:12.5px;line-height:14px;color:#131722;transform:scaleX(0.8471);">DC</span>
<span class="t" style="left:348px;top:189px;font-size:12.5px;line-height:14px;color:#2323ee;transform:scaleX(0.9841);">20373.0000</span>
<span class="t" style="left:420px;top:189px;font-size:12.5px;line-height:14px;color:#2323ee;transform:scaleX(0.9917);">20433.5000</span>
<span class="t" style="left:492.5px;top:189px;font-size:12.5px;line-height:14px;color:#ff8512;transform:scaleX(0.9917);">20403.2500</span>
<div class="b" style="left:322.3px;top:308.8px;width:32px;height:32px;background:#fff;border:1px solid #dcdfe8;box-sizing:border-box;border-radius:16px;"></div>
<svg class="b" style="left:322px;top:308px;" width="34" height="34" viewBox="322 308 34 34"><path d="M331 330.600C328.500 330.600 327.800 328.500 327.900 326.800C328 324.500 329.500 323 331.200 322.800C331.800 319.800 334 317.800 336.600 317.800C339 317.800 340.800 319.300 341.600 321.600C342.500 321 343.800 320.800 345 321.200C347.500 322 349 324.200 349 326.600C349 329 347.500 330.600 345.500 330.600Z" fill="#2d9cee"/><path d="M328.800 329.500L335.800 322.400L340.900 327.500L346.500 322.200" fill="none" stroke="#fff" stroke-width="1.300"/><circle cx="335.800" cy="322.400" r="1.250" fill="#fff"/><circle cx="340.900" cy="327.500" r="1.250" fill="#fff"/></svg>
<div class="b" style="left:938.4px;top:289.4px;width:26px;height:26px;background:#fff;border-radius:13px;box-shadow:0 1px 3px rgba(0,0,0,0.220);"></div>
<svg class="b" style="left:945px;top:297px;" width="13" height="11" viewBox="0 0 13 11"><path d="M1.500 1.200L6 5.500L1.500 9.800M7 1.200L11.500 5.500L7 9.800" fill="none" stroke="#3a3e4a" stroke-width="1.800"/></svg>
<div class="b" style="left:981px;top:155px;width:1px;height:222px;background:#e0e3eb;"></div>
<div class="b" style="left:315px;top:348px;width:726px;height:1px;background:#e0e3eb;"></div>
<div class="b" style="left:315px;top:376px;width:726px;height:1px;background:#e0e3eb;"></div>
<div class="b" style="left:981px;top:163px;width:4px;height:1px;background:#d0d3db;"></div>
<span class="t" style="left:989.8px;top:156.8px;font-size:12px;line-height:14px;color:#131722;transform:scaleX(0.9795);">20440.0</span>
<div class="b" style="left:981px;top:198px;width:4px;height:1px;background:#d0d3db;"></div>
<span class="t" style="left:989.8px;top:191.8px;font-size:12px;line-height:14px;color:#131722;transform:scaleX(0.9795);">20420.0</span>
<div class="b" style="left:981px;top:234px;width:4px;height:1px;background:#d0d3db;"></div>
<span class="t" style="left:989.8px;top:227.8px;font-size:12px;line-height:14px;color:#131722;transform:scaleX(0.9795);">20400.0</span>
<div class="b" style="left:981px;top:269px;width:4px;height:1px;background:#d0d3db;"></div>
<span class="t" style="left:989.8px;top:262.8px;font-size:12px;line-height:14px;color:#131722;transform:scaleX(0.9795);">20380.0</span>
<div class="b" style="left:981px;top:304px;width:4px;height:1px;background:#d0d3db;"></div>
<span class="t" style="left:989.8px;top:297.8px;font-size:12px;line-height:14px;color:#131722;transform:scaleX(0.9795);">20360.0</span>
<div class="b" style="left:981px;top:340px;width:4px;height:1px;background:#d0d3db;"></div>
<span class="t" style="left:989.8px;top:333.8px;font-size:12px;line-height:14px;color:#131722;transform:scaleX(0.9795);">20340.0</span>
<div class="b" style="left:981px;top:199px;width:60px;height:36px;background:#ea3a12;"></div>
<div class="b" style="left:981px;top:209px;width:4px;height:1px;background:#fff;"></div>
<div class="b" style="left:981px;top:226px;width:4px;height:1px;background:#fff;"></div>
<span class="t" style="left:989.8px;top:201.8px;font-size:12.5px;line-height:14px;color:#fff;font-weight:700;transform:scaleX(0.9405);">20405.0</span>
<span class="t" style="left:989.8px;top:219.8px;font-size:12.5px;line-height:14px;color:#fff;font-weight:700;transform:scaleX(0.9405);">20404.5</span>
<div class="b" style="left:346px;top:349px;width:1px;height:3px;background:#d0d3db;"></div>
<span class="t" style="left:331.7px;top:356.8px;font-size:12px;line-height:14px;color:#131722;transform:scaleX(0.9324);">12:30</span>
<div class="b" style="left:436px;top:349px;width:1px;height:3px;background:#d0d3db;"></div>
<span class="t" style="left:421.7px;top:356.8px;font-size:12px;line-height:14px;color:#131722;transform:scaleX(0.9324);">12:45</span>
<div class="b" style="left:526px;top:349px;width:1px;height:3px;background:#d0d3db;"></div>
<span class="t" style="left:511.5px;top:356.8px;font-size:12px;line-height:14px;color:#131722;transform:scaleX(1.0189);-webkit-text-stroke:0.180px #131722;">13:00</span>
<div class="b" style="left:617px;top:349px;width:1px;height:3px;background:#d0d3db;"></div>
<span class="t" style="left:602.7px;top:356.8px;font-size:12px;line-height:14px;color:#131722;transform:scaleX(0.9324);">13:15</span>
<div class="b" style="left:707px;top:349px;width:1px;height:3px;background:#d0d3db;"></div>
<span class="t" style="left:692.7px;top:356.8px;font-size:12px;line-height:14px;color:#131722;transform:scaleX(0.9324);">13:30</span>
<div class="b" style="left:797px;top:349px;width:1px;height:3px;background:#d0d3db;"></div>
<span class="t" style="left:782.7px;top:356.8px;font-size:12px;line-height:14px;color:#131722;transform:scaleX(0.9324);">13:45</span>
<div class="b" style="left:888px;top:349px;width:1px;height:3px;background:#d0d3db;"></div>
<span class="t" style="left:873.5px;top:356.8px;font-size:12px;line-height:14px;color:#131722;transform:scaleX(1.0189);-webkit-text-stroke:0.180px #131722;">14:00</span>
<span class="t" style="left:963.7px;top:356.8px;font-size:12px;line-height:14px;color:#131722;transform:scaleX(0.8989);">14:</span>
<svg class="b" style="left:1002.4px;top:355px;" width="18" height="18" viewBox="0 0 18 18"><circle cx="9" cy="9" r="5.200" fill="none" stroke="#131722" stroke-width="1.200"/><path d="M14.80 9.00L17.00 9.00" stroke="#131722" stroke-width="1.300"/><path d="M13.10 13.10L14.66 14.66" stroke="#131722" stroke-width="1.300"/><path d="M9.00 14.80L9.00 17.00" stroke="#131722" stroke-width="1.300"/><path d="M4.90 13.10L3.34 14.66" stroke="#131722" stroke-width="1.300"/><path d="M3.20 9.00L1.00 9.00" stroke="#131722" stroke-width="1.300"/><path d="M4.90 4.90L3.34 3.34" stroke="#131722" stroke-width="1.300"/><path d="M9.00 3.20L9.00 1.00" stroke="#131722" stroke-width="1.300"/><path d="M13.10 4.90L14.66 3.34" stroke="#131722" stroke-width="1.300"/></svg>
<span class="t" style="left:331.2px;top:388.5px;font-size:13.5px;line-height:15px;color:#2a2e39;transform:scaleX(0.9814);">5y</span>
<span class="t" style="left:360.3px;top:388.5px;font-size:13.5px;line-height:15px;color:#2a2e39;transform:scaleX(0.9393);">1y</span>
<span class="t" style="left:388px;top:388.5px;font-size:13.5px;line-height:15px;color:#2a2e39;transform:scaleX(0.9592);">6m</span>
<span class="t" style="left:420.5px;top:388.5px;font-size:13.5px;line-height:15px;color:#2a2e39;transform:scaleX(0.9858);">3m</span>
<span class="t" style="left:455px;top:388.5px;font-size:13.5px;line-height:15px;color:#2a2e39;transform:scaleX(0.9326);">1m</span>
<span class="t" style="left:487.4px;top:388.5px;font-size:13.5px;line-height:15px;color:#2a2e39;transform:scaleX(0.9713);">5d</span>
<span class="t" style="left:515.9px;top:388.5px;font-size:13.5px;line-height:15px;color:#2a2e39;transform:scaleX(0.9713);">1d</span>
<span class="t" style="left:815px;top:387.5px;font-size:14px;line-height:16px;color:#2a2e39;transform:scaleX(0.9597);">14:20:46 (UTC)</span>
<div class="b" style="left:924px;top:384px;width:1px;height:22px;background:#e0e3eb;"></div>
<span class="t" style="left:941px;top:387.5px;font-size:14px;line-height:16px;color:#2a2e39;transform:scaleX(1.0439);">%</span>
<span class="t" style="left:970px;top:387.5px;font-size:14px;line-height:16px;color:#2a2e39;transform:scaleX(0.9632);">log</span>
<span class="t" style="left:1002px;top:387.5px;font-size:14px;line-height:16px;color:#2196f3;transform:scaleX(1.0275);">auto</span>
</div></div>
<div class="b" style="left:1041px;top:222px;width:14px;height:28px;background:#e6eaf7;border-radius:7px;"></div>
<svg class="b" style="left:1044px;top:230px;" width="8" height="12" viewBox="0 0 8 12"><path d="M2 1.500L6 6L2 10.500" fill="none" stroke="#8a93ad" stroke-width="1.100"/></svg>
<div class="b" style="left:775.5px;top:410px;width:27px;height:11px;background:#e3e8f6;border-radius:6px;"></div>
<div class="b" style="left:782px;top:412.7px;width:14px;height:1.6px;background:#3a3f55;"></div>
<div class="b" style="left:782px;top:415.9px;width:14px;height:1.6px;background:#3a3f55;"></div>
<span class="t" style="left:1062.2px;top:76.9px;font-size:14px;line-height:16px;color:#3377fe;transform:scaleX(0.9346);">ORDER BOOK</span>
<span class="t" style="left:1181.3px;top:76.9px;font-size:14px;line-height:16px;color:#7a84a3;transform:scaleX(0.8940);">LAST TRADES</span>
<div class="b" style="left:1062px;top:116px;width:14px;height:3px;background:#e5432a;"></div>
<div class="b" style="left:1062px;top:121px;width:14px;height:3px;background:#21a33a;"></div>
<div class="b" style="left:1085px;top:116px;width:14px;height:3px;background:#e8836f;"></div>
<div class="b" style="left:1085px;top:121px;width:14px;height:3px;background:#e8836f;"></div>
<div class="b" style="left:1107px;top:116px;width:14px;height:3px;background:#5ec26a;"></div>
<div class="b" style="left:1107px;top:121px;width:14px;height:3px;background:#5ec26a;"></div>
<span class="t" style="left:1062.2px;top:143px;font-size:10.5px;line-height:12px;color:#7a84a3;transform:scaleX(0.9859);">Price</span>
<span class="t" style="left:1157.6px;top:143px;font-size:10.5px;line-height:12px;color:#7a84a3;transform:scaleX(1.0688);">Quantity</span>
<span class="t" style="left:1264.9px;top:143px;font-size:10.5px;line-height:12px;color:#7a84a3;transform:scaleX(1.0546);">Total</span>
<div class="b" style="left:1049px;top:157.300px;width:267px;height:248px;overflow:hidden">
<span class="t" style="left:13px;top:-4.2px;font-size:12.5px;line-height:14px;color:#e5432a;transform:scaleX(0.9850);">20,418.5</span>
<span class="t" style="left:107.8px;top:-4.2px;font-size:12.5px;line-height:14px;color:#6b7594;transform:scaleX(0.9850);">813,169</span>
<span class="t" style="left:184.925px;top:-4.2px;font-size:12.5px;line-height:14px;color:#6b7594;transform:scaleX(0.9850);">1,877,160</span>
<span class="t" style="left:13px;top:17.4px;font-size:12.5px;line-height:14px;color:#e5432a;transform:scaleX(0.9850);">20,418</span>
<span class="t" style="left:107.8px;top:17.4px;font-size:12.5px;line-height:14px;color:#6b7594;transform:scaleX(0.9850);">665,702</span>
<span class="t" style="left:184.925px;top:17.4px;font-size:12.5px;line-height:14px;color:#6b7594;transform:scaleX(0.9850);">1,063,991</span>
<span class="t" style="left:13px;top:39px;font-size:12.5px;line-height:14px;color:#e5432a;transform:scaleX(0.9850);">20,417.5</span>
<span class="t" style="left:107.8px;top:39px;font-size:12.5px;line-height:14px;color:#6b7594;transform:scaleX(0.9850);">12,283</span>
<span class="t" style="left:195.19px;top:39px;font-size:12.5px;line-height:14px;color:#6b7594;transform:scaleX(0.9850);">398,289</span>
<span class="t" style="left:13px;top:60.6px;font-size:12.5px;line-height:14px;color:#e5432a;transform:scaleX(0.9850);">20,417</span>
<span class="t" style="left:107.8px;top:60.6px;font-size:12.5px;line-height:14px;color:#6b7594;transform:scaleX(0.9850);">374,459</span>
<span class="t" style="left:195.19px;top:60.6px;font-size:12.5px;line-height:14px;color:#6b7594;transform:scaleX(0.9850);">386,006</span>
<span class="t" style="left:13px;top:82.2px;font-size:12.5px;line-height:14px;color:#e5432a;transform:scaleX(0.9850);">20,416</span>
<span class="t" style="left:107.8px;top:82.2px;font-size:12.5px;line-height:14px;color:#6b7594;transform:scaleX(0.9850);">11,547</span>
<span class="t" style="left:202.947px;top:82.2px;font-size:12.5px;line-height:14px;color:#6b7594;transform:scaleX(0.9850);">11,547</span>
<span class="t" style="left:13px;top:151.9px;font-size:12.5px;line-height:14px;color:#21a33a;transform:scaleX(0.9850);">20,415.5</span>
<span class="t" style="left:107.8px;top:151.9px;font-size:12.5px;line-height:14px;color:#6b7594;transform:scaleX(0.9850);">17,480</span>
<span class="t" style="left:202.039px;top:151.9px;font-size:12.5px;line-height:14px;color:#6b7594;transform:scaleX(0.9850);">17,480</span>
<span class="t" style="left:13px;top:173.5px;font-size:12.5px;line-height:14px;color:#21a33a;transform:scaleX(0.9850);">20,414.5</span>
<span class="t" style="left:107.8px;top:173.5px;font-size:12.5px;line-height:14px;color:#6b7594;transform:scaleX(0.9850);">207,237</span>
<span class="t" style="left:195.19px;top:173.5px;font-size:12.5px;line-height:14px;color:#6b7594;transform:scaleX(0.9850);">224,717</span>
<span class="t" style="left:13px;top:195.1px;font-size:12.5px;line-height:14px;color:#21a33a;transform:scaleX(0.9850);">20,414</span>
<span class="t" style="left:107.8px;top:195.1px;font-size:12.5px;line-height:14px;color:#6b7594;transform:scaleX(0.9850);">280,117</span>
<span class="t" style="left:195.19px;top:195.1px;font-size:12.5px;line-height:14px;color:#6b7594;transform:scaleX(0.9850);">504,834</span>
<span class="t" style="left:13px;top:216.7px;font-size:12.5px;line-height:14px;color:#21a33a;transform:scaleX(0.9850);">20,413.5</span>
<span class="t" style="left:107.8px;top:216.7px;font-size:12.5px;line-height:14px;color:#6b7594;transform:scaleX(0.9850);">359,521</span>
<span class="t" style="left:195.19px;top:216.7px;font-size:12.5px;line-height:14px;color:#6b7594;transform:scaleX(0.9850);">864,355</span>
</div>
<svg class="b" style="left:1061.5px;top:275.5px;" width="12" height="12" viewBox="0 0 12 12"><path d="M1.300 1.700L8.800 9.200M2 9.700H9.300V2.400" fill="none" stroke="#e5432a" stroke-width="2.300"/></svg>
<span class="t" style="left:1083.3px;top:273.8px;font-size:14.5px;line-height:16px;color:#e5432a;transform:scaleX(0.9694);">20,396</span>
<span class="t" style="left:1257.2px;top:273.8px;font-size:14.5px;line-height:16px;color:#7a84a3;transform:scaleX(0.9763);">$205</span>
<div class="b" style="left:1299.5px;top:237px;width:8.5px;height:63px;background:#eef1fa;border-radius:4px;"></div>
<span class="t" style="left:275.2px;top:429px;font-size:12.5px;line-height:14px;color:#3377fe;transform:scaleX(0.9003);">OPEN POSITIONS</span>
<div class="b" style="left:380px;top:426px;width:15px;height:20px;background:#3377fe;border-radius:2px;"></div>
<span class="t" style="left:384.023px;top:428.8px;font-size:12.5px;line-height:14px;color:#fff;font-weight:700;">0</span>
<span class="t" style="left:424.7px;top:429px;font-size:12.5px;line-height:14px;color:#7a84a3;transform:scaleX(0.8599);">ACTIVE ORDERS</span>
<div class="b" style="left:521px;top:426px;width:15px;height:20px;background:#fff;border:1px solid #7a84a3;box-sizing:border-box;border-radius:2px;"></div>
<span class="t" style="left:525.023px;top:428.8px;font-size:12.5px;line-height:14px;color:#7a84a3;">0</span>
<span class="t" style="left:566px;top:429px;font-size:12.5px;line-height:14px;color:#7a84a3;transform:scaleX(0.9002);">POSITION HISTORY</span>
<span class="t" style="left:702.5px;top:429px;font-size:12.5px;line-height:14px;color:#7a84a3;transform:scaleX(0.8701);">ORDERS HISTORY</span>
<span class="t" style="left:1029px;top:430.1px;font-size:12.5px;line-height:14px;color:#7a84a3;transform:scaleX(0.9873);">Sort by Date</span>
<svg class="b" style="left:1104px;top:434px;" width="8" height="5" viewBox="0 0 8 5"><path d="M0.300 0.500h7.400l-3.700 3.700z" fill="#7a84a3"/></svg>
<span class="t" style="left:1141.5px;top:430.1px;font-size:12.5px;line-height:14px;color:#7a84a3;transform:scaleX(0.9566);">Select coin</span>
<svg class="b" style="left:1221px;top:434.5px;" width="9" height="5" viewBox="0 0 9 5"><path d="M0.300 4.400h7.800l-3.900-4z" fill="#7a84a3"/></svg>
<svg class="b" style="left:1244px;top:430px;" width="24" height="18" viewBox="1244 430 24 18"><g fill="none" stroke="#737d9c" stroke-width="1.400"><path d="M1246.100 438.900H1264.800"/><ellipse cx="1252.300" cy="438.900" rx="2.900" ry="3.200"/><ellipse cx="1258.300" cy="438.900" rx="2.900" ry="3.200"/></g></svg>
<svg class="b" style="left:1284px;top:429px;" width="20" height="20" viewBox="1284 429 20 20"><path d="M1287 435.700V432.100H1290.800M1297.400 432.100H1301.100V435.700M1301.100 442.500V446.200H1297.400M1290.800 446.200H1287V442.500" fill="none" stroke="#6f7a9b" stroke-width="1.700"/></svg>
<div class="b" style="left:275px;top:460px;width:1035px;height:26px;background:#fff;border:1px solid #dfe5f6;box-sizing:border-box;border-radius:3px;"></div>
<span class="t" style="left:279.5px;top:467px;font-size:11px;line-height:12px;color:#7a84a3;transform:scaleX(0.9813);">Deal ID</span>
<span class="t" style="left:372px;top:467px;font-size:11px;line-height:12px;color:#7a84a3;transform:scaleX(1.0338);">Open Date</span>
<span class="t" style="left:438.75px;top:467px;font-size:11px;line-height:12px;color:#7a84a3;transform:scaleX(1.0085);">Asset</span>
<span class="t" style="left:491px;top:467px;font-size:11px;line-height:12px;color:#7a84a3;transform:scaleX(1.0740);">Quantity</span>
<span class="t" style="left:568.5px;top:467px;font-size:11px;line-height:12px;color:#7a84a3;transform:scaleX(1.0558);">Margin</span>
<span class="t" style="left:650.75px;top:467px;font-size:11px;line-height:12px;color:#7a84a3;transform:scaleX(1.0221);">Open Price</span>
<span class="t" style="left:718px;top:467px;font-size:11px;line-height:12px;color:#7a84a3;transform:scaleX(1.0417);">Current Price</span>
<span class="t" style="left:795.5px;top:467px;font-size:11px;line-height:12px;color:#7a84a3;transform:scaleX(0.9628);">EST Liq. Price</span>
<span class="t" style="left:878px;top:467px;font-size:11px;line-height:12px;color:#7a84a3;transform:scaleX(0.9319);">TP / SL</span>
<span class="t" style="left:1033px;top:467px;font-size:11px;line-height:12px;color:#7a84a3;transform:scaleX(1.0436);">Funding</span>
<span class="t" style="left:1095px;top:467px;font-size:11px;line-height:12px;color:#7a84a3;transform:scaleX(0.9857);">Realized PnL</span>
<span class="t" style="left:1172.5px;top:467px;font-size:11px;line-height:12px;color:#7a84a3;transform:scaleX(1.0237);">Unrealized PnL</span>
<span class="t" style="left:1260px;top:467px;font-size:11px;line-height:12px;color:#7a84a3;transform:scaleX(0.9017);">ROE</span>
<div class="b" style="left:971px;top:462px;width:58.500px;height:22px;overflow:hidden">
<span class="t" style="left:0px;top:5px;font-size:11px;line-height:12px;color:#7a84a3;transform:scaleX(1.0493);">Commission</span>
</div>
</div></body></html>
